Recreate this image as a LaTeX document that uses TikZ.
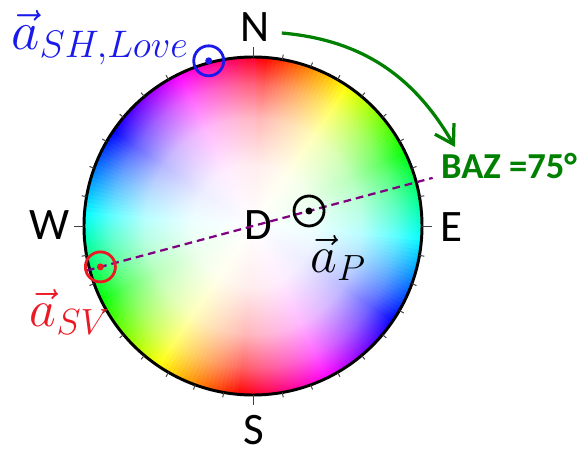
\RequirePackage{fix-cm}
\documentclass[tikz,border=0pt]{standalone}
\usepackage{amsmath}
\usepackage{fontspec}
\setmainfont{Carlito}
\usetikzlibrary{arrows.meta, positioning, calc}

\definecolor{bazgreen}{RGB}{0,128,0}
\definecolor{shblue}{RGB}{25,25,235}
\definecolor{svred}{RGB}{235,25,35}
\definecolor{lineviolet}{RGB}{128,0,128}
\colorlet{wedgecol}{red}
\pgfdeclareradialshading[wedgecol]{wheelshade}{\pgfpoint{0bp}{0bp}}{%
  color(0bp)=(white); color(9bp)=(wedgecol!7!white);
  color(16bp)=(wedgecol!28!white); color(21bp)=(wedgecol!62!white);
  color(25bp)=(wedgecol); color(50bp)=(wedgecol)}

\newcommand{\wheelR}{169}

\begin{document}
\begin{tikzpicture}[
  x=0.025cm, y=0.025cm,
  rim/.style = {draw=black, line width=2.1pt},
  ticklet/.style = {draw=black!75, line width=0.7pt},
  cardinal/.style = {inner sep=0pt, font=\fontsize{32}{36}\selectfont},
  marker/.style = {circle, line width=2pt, minimum size=0.75cm, inner sep=0pt},
  veclabel/.style = {inner sep=0pt, font=\fontsize{37}{40}\selectfont},
  bazlabel/.style = {inner sep=0pt, text=bazgreen, font=\fontsize{26}{30}\selectfont\bfseries},
  bazline/.style = {lineviolet, line width=1.6pt, dash pattern=on 5.5pt off 3.5pt},
  turn/.style = {bazgreen, line width=2.3pt, -{Straight Barb[length=4.5mm, width=5.5mm]}}
]
  \useasboundingbox (-253,-228) rectangle (327,226);

  % colour wheel: hue goes round twice, white in the middle
  \foreach \az in {0,1.5,...,358.5} {
    \pgfmathsetmacro\hue{mod(2*\az+351.5,360)}
    \definecolor{wedgecol}{Hsb}{\hue,1,1}
    \begin{scope}
      \clip (0,0) -- ({90-\az+1}:\wheelR)
        arc[start angle={90-\az+1}, end angle={90-\az-2.5}, radius=\wheelR] -- cycle;
      \shade[shading=wheelshade] (0,0) circle (\wheelR);
    \end{scope}
  }
  \draw[rim] (0,0) circle (\wheelR);

  % ticks every 10 degrees, longer at N E S W
  \foreach \az in {0,10,...,350}
    \draw[ticklet] ({90-\az}:\wheelR) -- ({90-\az}:{\wheelR+5});
  \foreach \az in {0,90,180,270}
    \draw[ticklet] ({90-\az}:\wheelR) -- ({90-\az}:{\wheelR+10});

  % directions
  \node[cardinal] (north) at (2,199)  {N};
  \node[cardinal] (south) at (1,-204) {S};
  \node[cardinal] (west)  at (-203,1) {W};
  \node[cardinal] (east)  at (198,-1) {E};
  \node[cardinal] (down)  at (5,1)    {D};

  % back azimuth line through the centre
  \coordinate (bazW) at (-165:172);
  \coordinate (bazE) at (15:186);
  \draw[bazline] (bazW) -- (bazE);

  % polarisation markers
  \node[marker, draw=svred]  (sv) at (-165:158) {};
  \node[marker, draw=shblue] (sh) at (105:171)  {};
  \node[marker, draw=black]  (p)  at (15:58)    {};
  \fill[svred]  (sv.center) circle (3.5);
  \fill[shblue] (sh.center) circle (3.5);
  \fill[black]  (p.center)  circle (3.5);

  \node[veclabel, text=svred]  (svlabel) at (-183,-86) {$\vec{a}_{SV}$};
  \node[veclabel, text=shblue, font=\fontsize{39}{43}\selectfont]
                               (shlabel) at (-153,188) {$\vec{a}_{SH,Love}$};
  \node[veclabel]              (plabel)  at (85,-32)   {$\vec{a}_P$};

  % rotation to the back azimuth
  \node[bazlabel] (baz) at (256,60) {BAZ =75°};
  \coordinate (turnend) at (202,79);
  \draw[turn] ($(north.east)+(12,-6)$) to[out=-5, in=120] (turnend);

\end{tikzpicture}
\end{document}
